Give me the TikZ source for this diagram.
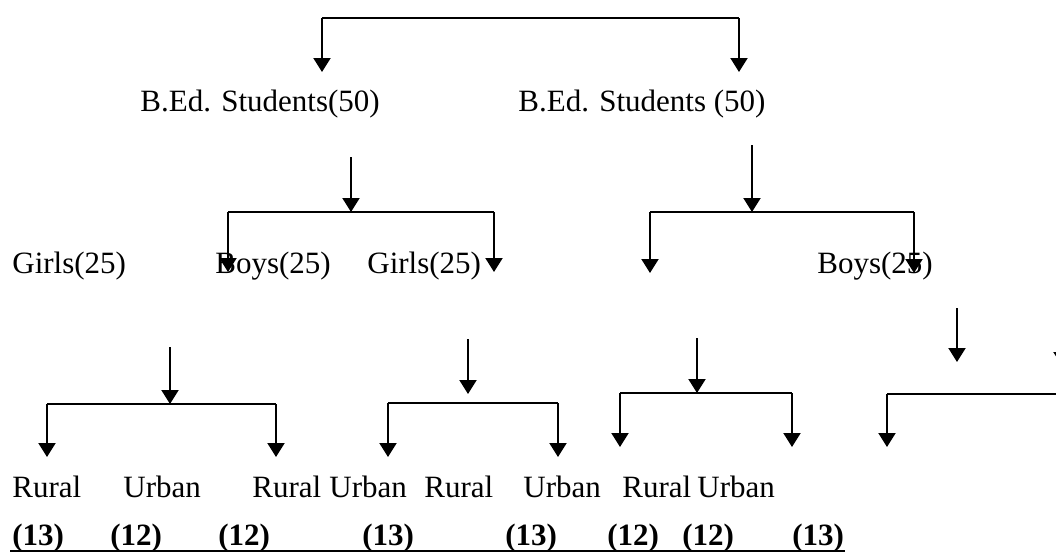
\documentclass[tikz,border=0pt]{standalone}
\usepackage{fontspec}
\setmainfont{Liberation Serif}
\usetikzlibrary{arrows.meta}
\tikzset{
	lbl/.style={anchor=base west, inner sep=0pt, font=\fontsize{15.5}{18}\selectfont},
	num/.style={lbl, font=\fontsize{15.5}{18}\selectfont\bfseries},
	bar/.style={line width=1pt},
	arr/.style={line width=1pt, -{Triangle[width=8.5pt,length=7pt]}},
}
\begin{document}
\begin{tikzpicture}[x=0.5pt,y=-0.5pt]
	\clip (0,0) rectangle (1056,557);
	% first split
	\coordinate (a1) at (322,18); \coordinate (a1t) at (322,72);
	\coordinate (a2) at (739,18); \coordinate (a2t) at (739,72);
	\draw[bar] (a1) -- (a2);
	\draw[arr] (a1) -- (a1t);
	\draw[arr] (a2) -- (a2t);
	\node[lbl] (bed1) at (140,112) {B.Ed. Students(50)};
	\node[lbl] (bed2) at (518,112) {B.Ed. Students (50)};
	% second split, left
	\coordinate (b0) at (351,157); \coordinate (bm) at (351,212);
	\coordinate (b1) at (228,212); \coordinate (b1t) at (228,272);
	\coordinate (b2) at (494,212); \coordinate (b2t) at (494,272);
	\draw[arr] (b0) -- (bm);
	\draw[bar] (b1) -- (b2);
	\draw[arr] (b1) -- (b1t);
	\draw[arr] (b2) -- (b2t);
	% second split, right
	\coordinate (c0) at (752,145); \coordinate (cm) at (752,212);
	\coordinate (c1) at (650,212); \coordinate (c1t) at (650,273);
	\coordinate (c2) at (914,212); \coordinate (c2t) at (914,273);
	\draw[arr] (c0) -- (cm);
	\draw[bar] (c1) -- (c2);
	\draw[arr] (c1) -- (c1t);
	\draw[arr] (c2) -- (c2t);
	\node[lbl] (girls1) at (12,273) {Girls(25)};
	\node[lbl] (boys1) at (215,273) {Boys(25)};
	\node[lbl] (girls2) at (367,273) {Girls(25)};
	\node[lbl] (boys2) at (817,273) {Boys(25)};
	% third split
	\coordinate (d0) at (170,347); \coordinate (dm) at (170,404);
	\coordinate (d1) at (47,404); \coordinate (d1t) at (47,457);
	\coordinate (d2) at (276,404); \coordinate (d2t) at (276,457);
	\draw[arr] (d0) -- (dm);
	\draw[bar] (d1) -- (d2);
	\draw[arr] (d1) -- (d1t);
	\draw[arr] (d2) -- (d2t);
	\coordinate (e0) at (468,339); \coordinate (em) at (468,394);
	\coordinate (e1) at (388,403); \coordinate (e1t) at (388,457);
	\coordinate (e2) at (558,403); \coordinate (e2t) at (558,457);
	\draw[arr] (e0) -- (em);
	\draw[bar] (e1) -- (e2);
	\draw[arr] (e1) -- (e1t);
	\draw[arr] (e2) -- (e2t);
	\coordinate (f0) at (697,338); \coordinate (fm) at (697,393);
	\coordinate (f1) at (620,393); \coordinate (f1t) at (620,447);
	\coordinate (f2) at (792,393); \coordinate (f2t) at (792,447);
	\draw[arr] (f0) -- (fm);
	\draw[bar] (f1) -- (f2);
	\draw[arr] (f1) -- (f1t);
	\draw[arr] (f2) -- (f2t);
	\coordinate (g0) at (957,308); \coordinate (gm) at (957,362);
	\coordinate (h0) at (1062,310); \coordinate (hm) at (1062,366);
	\coordinate (g1) at (887,394); \coordinate (g1t) at (887,447);
	\coordinate (g2) at (1070,394);
	\draw[arr] (g0) -- (gm);
	\draw[arr] (h0) -- (hm);
	\draw[bar] (g1) -- (g2);
	\draw[arr] (g1) -- (g1t);
	% places
	\node[lbl] (r1) at (12,497) {Rural};
	\node[lbl] (u1) at (123,497) {Urban};
	\node[lbl] (r2) at (252,497) {Rural};
	\node[lbl] (u2) at (329,497) {Urban};
	\node[lbl] (r3) at (424,497) {Rural};
	\node[lbl] (u3) at (523,497) {Urban};
	\node[lbl] (r4) at (622,497) {Rural};
	\node[lbl] (u4) at (697,497) {Urban};
	% counts
	\node[num] (n1) at (12,545) {(13)};
	\node[num] (n2) at (110,545) {(12)};
	\node[num] (n3) at (218,545) {(12)};
	\node[num] (n4) at (362,545) {(13)};
	\node[num] (n5) at (505,545) {(13)};
	\node[num] (n6) at (607,545) {(12)};
	\node[num] (n7) at (682,545) {(12)};
	\node[num] (n8) at (792,545) {(13)};
	\coordinate (ul1) at (10,551); \coordinate (ul2) at (845,551);
	\draw[bar] (ul1) -- (ul2);
\end{tikzpicture}
\end{document}
